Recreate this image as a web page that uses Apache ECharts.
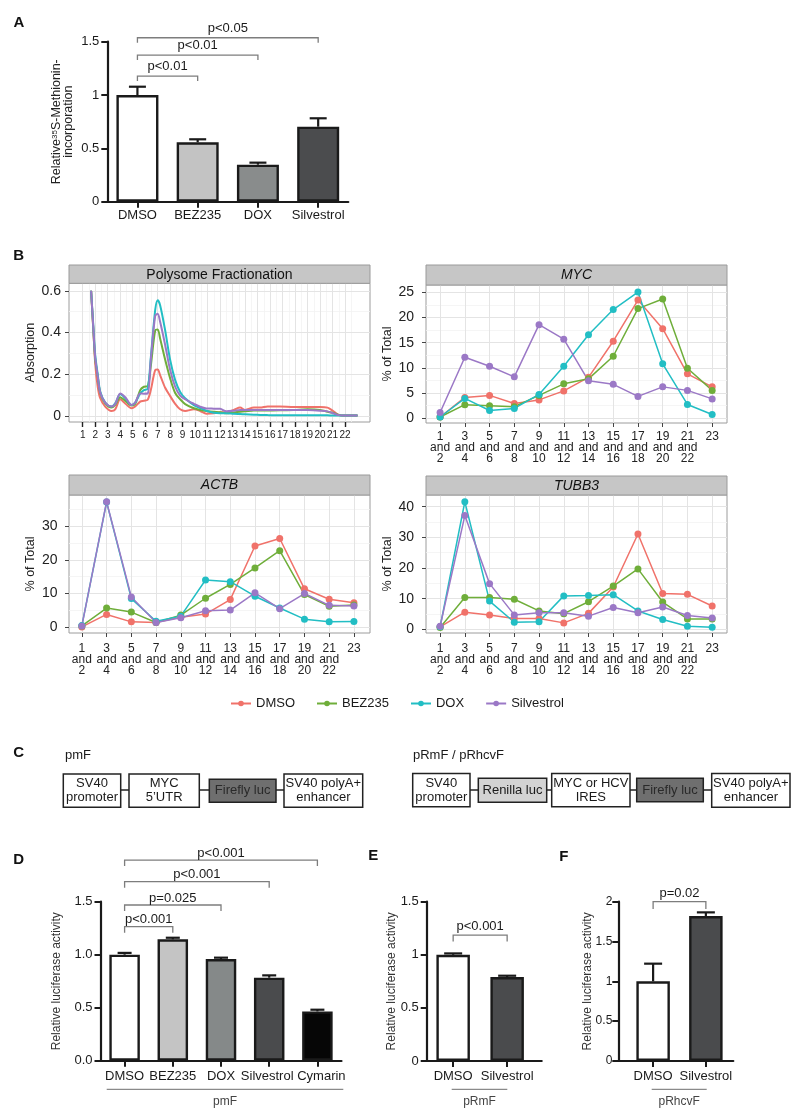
<!DOCTYPE html>
<html><head><meta charset="utf-8">
<script src="https://cdn.jsdelivr.net/npm/echarts@6.0.0/dist/echarts.min.js"></script>
<style>html,body{margin:0;padding:0;background:#fff}#c{width:800px;height:1115px}</style>
</head><body><div id="c"></div>
<script>
// ================= DATA =================
// Panel A
const catA = ['DMSO', 'BEZ235', 'DOX', 'Silvestrol'];
const valA = [1.0, 0.557, 0.347, 0.703];
const errA = [0.078, 0.028, 0.019, 0.079];
const sigA = ['p<0.01', 'p<0.01', 'p<0.05'];

// Panel B
const treatments = ['DMSO', 'BEZ235', 'DOX', 'Silvestrol'];
const fracLabels = ['1 and 2', '3 and 4', '5 and 6', '7 and 8', '9 and 10', '11 and 12',
  '13 and 14', '15 and 16', '17 and 18', '19 and 20', '21 and 22', '23'];
const polyFraction = [1.67, 1.85, 2.0, 2.2, 2.4, 2.8, 3.3, 3.6, 4.0, 4.4, 4.9, 5.2, 5.6, 5.9, 6.2,
  6.45, 6.8, 7.0, 7.2, 7.6, 8.0, 8.4, 8.8, 9.2, 9.9, 10.4, 10.9, 11.5, 12.0, 12.5, 13.1, 13.6,
  14.0, 14.7, 15.2, 15.8, 16.8, 17.9, 19.0, 20.0, 20.6, 21.0, 21.5, 21.9, 23.0];
const polyDMSO = [0.60, 0.41, 0.25, 0.14, 0.085, 0.045, 0.024, 0.032, 0.080, 0.060, 0.037, 0.045,
  0.069, 0.073, 0.078, 0.124, 0.220, 0.223, 0.195, 0.135, 0.095, 0.058, 0.032, 0.024, 0.032,
  0.024, 0.011, 0.013, 0.018, 0.018, 0.029, 0.040, 0.029, 0.041, 0.040, 0.045, 0.045, 0.043,
  0.043, 0.043, 0.040, 0.026, 0.005, 0.002, 0.002];
const polyBEZ235 = [0.60, 0.41, 0.27, 0.19, 0.11, 0.060, 0.040, 0.053, 0.090, 0.073, 0.050, 0.057,
  0.124, 0.140, 0.143, 0.240, 0.410, 0.415, 0.370, 0.270, 0.180, 0.110, 0.080, 0.057, 0.037,
  0.029, 0.024, 0.020, 0.018, 0.013, 0.017, 0.020, 0.022, 0.026, 0.026, 0.026, 0.027, 0.029,
  0.032, 0.029, 0.020, 0.015, 0.005, 0.002, 0.002];
const polyDOX = [0.60, 0.43, 0.29, 0.20, 0.117, 0.064, 0.045, 0.060, 0.105, 0.085, 0.053, 0.064,
  0.108, 0.124, 0.130, 0.280, 0.507, 0.555, 0.530, 0.410, 0.268, 0.172, 0.115, 0.085, 0.052,
  0.038, 0.025, 0.015, 0.013, 0.013, 0.010, 0.009, 0.008, 0.006, 0.005, 0.004, 0.003, 0.003,
  0.003, 0.003, 0.003, 0.002, 0.002, 0.002, 0.002];
const polySilvestrol = [0.60, 0.42, 0.28, 0.19, 0.112, 0.064, 0.045, 0.057, 0.108, 0.090, 0.053,
  0.064, 0.108, 0.107, 0.108, 0.270, 0.480, 0.490, 0.450, 0.340, 0.220, 0.140, 0.098, 0.080,
  0.058, 0.044, 0.036, 0.035, 0.034, 0.022, 0.025, 0.029, 0.029, 0.029, 0.029, 0.029, 0.029,
  0.029, 0.028, 0.025, 0.022, 0.014, 0.004, 0.002, 0.002];

const mycDMSO = [0.2, 4.1, 4.5, 2.9, 3.6, 5.4, 8.1, 15.3, 23.5, 17.8, 8.8, 6.2];
const mycBEZ235 = [0.2, 2.65, 2.45, 2.25, 4.5, 6.8, 7.8, 12.3, 21.8, 23.7, 9.9, 5.5];
const mycDOX = [0.2, 3.9, 1.5, 1.9, 4.7, 10.3, 16.6, 21.6, 25.1, 10.8, 2.7, 0.7];
const mycSilvestrol = [1.1, 12.1, 10.3, 8.2, 18.6, 15.7, 7.4, 6.7, 4.3, 6.2, 5.5, 3.8];

const actbDMSO = [0.1, 3.8, 1.6, 1.4, 3.0, 3.9, 8.2, 24.1, 26.3, 11.4, 8.3, 7.3];
const actbBEZ235 = [0.4, 5.7, 4.5, 1.4, 3.6, 8.6, 12.7, 17.6, 22.7, 9.7, 6.2, 6.6];
const actbDOX = [0.5, 37.1, 8.5, 1.8, 3.3, 14.0, 13.5, 9.2, 5.7, 2.4, 1.6, 1.7];
const actbSilvestrol = [0.4, 37.2, 9.0, 1.4, 2.8, 4.9, 5.1, 10.2, 5.5, 10.0, 6.5, 6.3];

const tubb3DMSO = [0.8, 5.6, 4.7, 3.5, 3.5, 2.1, 5.2, 13.8, 31.1, 11.7, 11.4, 7.6];
const tubb3BEZ235 = [0.6, 10.4, 10.4, 9.8, 6.0, 5.1, 9.0, 14.1, 19.7, 8.9, 3.4, 3.4];
const tubb3DOX = [0.8, 41.6, 9.2, 2.3, 2.5, 10.9, 11.0, 11.3, 6.0, 3.2, 1.0, 0.7];
const tubb3Silvestrol = [1.0, 37.1, 14.9, 4.7, 5.4, 5.4, 4.3, 7.1, 5.4, 7.3, 4.5, 3.7];

const polyXTicks = [1, 2, 3, 4, 5, 6, 7, 8, 9, 10, 11, 12, 13, 14, 15, 16, 17, 18, 19, 20, 21, 22];
const polyYTicks = [0, 0.2, 0.4, 0.6];
const mycYTicks = [0, 5, 10, 15, 20, 25];
const actbYTicks = [0, 10, 20, 30];
const tubb3YTicks = [0, 10, 20, 30, 40];

// Panel C constructs
const constructPmF = ['SV40\npromoter', 'MYC\n5\u2019UTR', 'Firefly luc', 'SV40 polyA+\nenhancer'];
const constructPR = ['SV40\npromoter', 'Renilla luc', 'MYC or HCV\nIRES', 'Firefly luc', 'SV40 polyA+\nenhancer'];

// Panel D
const catD = ['DMSO', 'BEZ235', 'DOX', 'Silvestrol', 'Cymarin'];
const valD = [1.0, 1.145, 0.959, 0.783, 0.465];
const errD = [0.017, 0.015, 0.013, 0.022, 0.016];
const sigD = ['p<0.001', 'p=0.025', 'p<0.001', 'p<0.001'];
// Panel E
const catE = ['DMSO', 'Silvestrol'];
const valE = [1.0, 0.79];
const errE = [0.013, 0.013];
const sigE = ['p<0.001'];
// Panel F
const catF = ['DMSO', 'Silvestrol'];
const valF = [1.0, 1.82];
const errF = [0.222, 0.046];
const sigF = ['p=0.02'];

// ================= STYLE / LAYOUT =================
const FONT = "'Liberation Sans', Arial, sans-serif";
const INK = '#1a1a1a';
const treatColors = ['#f0726a', '#6fae3a', '#22bec4', '#9b78c6'];
const fillA = ['#ffffff', '#c3c3c3', '#898c8c', '#4b4c4e'];
const fillD = ['#ffffff', '#c4c4c4', '#858989', '#4a4b4d', '#060606'];
const fillEF = ['#ffffff', '#4a4b4d'];
const fracIdx = fracLabels.map((_, i) => i);

const facetGrid = {show: true, backgroundColor: '#fff', borderColor: '#9c9c9c', borderWidth: 1, outerBoundsMode: 'none'};
const grid = [
  {left: 107.3, top: 41.7, width: 241, height: 160, outerBoundsMode: 'none'},
  Object.assign({left: 69, top: 283.3, width: 301, height: 138.7}, facetGrid),
  Object.assign({left: 426, top: 285, width: 301, height: 138}, facetGrid),
  Object.assign({left: 69, top: 495, width: 301, height: 138}, facetGrid),
  Object.assign({left: 426, top: 495, width: 301, height: 138}, facetGrid),
  {left: 100.5, top: 901.7, width: 241, height: 159, outerBoundsMode: 'none'},
  {left: 426.7, top: 901.7, width: 115, height: 159.3, outerBoundsMode: 'none'},
  {left: 618.3, top: 901.7, width: 115, height: 159.3, outerBoundsMode: 'none'}
];

const blackLine = {show: true, onZero: false, lineStyle: {color: INK, width: 2.2}};
const blackTick = {show: true, length: 6, lineStyle: {color: INK, width: 2}};

function barX(gi, cats, margin, fontSize) {
  return {type: 'category', gridIndex: gi, data: cats, boundaryGap: true,
    axisLine: blackLine, axisTick: Object.assign({alignWithLabel: true}, blackTick),
    axisLabel: {show: true, interval: 0, hideOverlap: false, color: INK, fontSize: fontSize || 13, fontFamily: FONT, margin: margin},
    splitLine: {show: false}};
}
function barXValue(gi, cats, min, max) {
  const idx = cats.map((_, i) => i);
  return {type: 'value', gridIndex: gi, min: min, max: max,
    axisLine: blackLine,
    axisTick: Object.assign({customValues: idx}, blackTick),
    axisLabel: {show: true, customValues: idx, hideOverlap: false, color: INK, fontSize: 13, fontFamily: FONT, margin: 9,
      formatter: v => cats[Math.round(v)]},
    splitLine: {show: false}};
}
function barY(gi, max, fmt, name, nameGap, margin, labelSize) {
  return {type: 'value', gridIndex: gi, min: 0, max: max, interval: 0.5,
    axisLine: blackLine, axisTick: blackTick,
    axisLabel: {show: true, color: INK, fontSize: labelSize || 13, fontFamily: FONT, margin: margin, formatter: fmt || undefined},
    splitLine: {show: false},
    name: name, nameLocation: 'middle', nameRotate: 90, nameGap: nameGap, nameMoveOverlap: false,
    nameTextStyle: {fontSize: 12, fontFamily: FONT, color: '#333'}};
}
function facetX(gi, min, max, ticks, fmt, fontSize, margin, tickStyle) {
  return {type: 'value', gridIndex: gi, min: min, max: max,
    axisLine: {show: false, onZero: false},
    axisTick: {show: true, customValues: ticks, length: tickStyle.length, lineStyle: {color: tickStyle.color, width: tickStyle.width}},
    axisLabel: {show: true, customValues: ticks, hideOverlap: false, color: '#222', fontSize: fontSize, lineHeight: 11,
      fontFamily: FONT, margin: margin, formatter: fmt},
    splitLine: {show: false}};
}
function facetY(gi, min, max, ticks, name, margin) {
  return {type: 'value', gridIndex: gi, min: min, max: max,
    axisLine: {show: false, onZero: false},
    axisTick: {show: true, customValues: ticks, length: 4, lineStyle: {color: '#444', width: 1}},
    axisLabel: {show: true, customValues: ticks, color: '#222', fontSize: 14, fontFamily: FONT, margin: margin},
    splitLine: {show: false},
    name: name, nameLocation: 'middle', nameRotate: 90, nameGap: 32, nameMoveOverlap: false,
    nameTextStyle: {fontSize: 12.5, fontFamily: FONT, color: '#222'}};
}
const fracFmt = v => fracLabels[Math.round(v)].replace(/ /g, '\n');
const thinTick = {length: 4, color: '#444', width: 1};

const xD = barX(5, catD.map((c, i) => {
  if (i === catD.length - 1) return {value: c, textStyle: {padding: [0, 0, 0, 8]}};
  if (i === catD.length - 2) return {value: c, textStyle: {padding: [0, 4, 0, 0]}};
  return c;
}), 9);
const xAxis = [
  barX(0, catA, 7),
  facetX(1, -0.1, 24, polyXTicks, v => String(v), 10, 8, {length: 5, color: '#222', width: 1.4}),
  facetX(2, -0.57, 11.6, fracIdx, fracFmt, 12, 8, thinTick),
  facetX(3, -0.52, 11.65, fracIdx, fracFmt, 12, 10, thinTick),
  facetX(4, -0.57, 11.6, fracIdx, fracFmt, 12, 10, thinTick),
  xD,
  barXValue(6, catE, -0.49, 1.64),
  barXValue(7, catF, -0.66, 1.52)
];
const yA = barY(0, 1.5, null, '{t|Relative}{s|35}{t|S-Methionin-}\n{t|incorporation}', 33, 8);
yA.nameTextStyle = {fontSize: 12.5, fontFamily: FONT, color: '#222', lineHeight: 12,
  rich: {t: {fontSize: 12.5, fontFamily: FONT, color: '#222', lineHeight: 12},
         s: {fontSize: 8, fontFamily: FONT, color: '#222', lineHeight: 8, verticalAlign: 'top'}}};
const yAxis = [
  yA,
  facetY(1, -0.029, 0.636, polyYTicks, 'Absorption', 8),
  facetY(2, -1.0, 26.5, mycYTicks, '% of Total', 12),
  facetY(3, -1.7, 39.2, actbYTicks, '% of Total', 11.5),
  facetY(4, -1.2, 43.8, tubb3YTicks, '% of Total', 12),
  barY(5, 1.5, v => v.toFixed(1), 'Relative luciferase activity', 37.5, 8),
  barY(6, 1.5, null, 'Relative luciferase activity', 29, 8),
  barY(7, 2, null, 'Relative luciferase activity', 25, 6, 12)
];

// ---- series helpers ----
function gridLines(ai, xMajor, xMinor, yMajor, yMinor) {
  const maj = {color: '#e4e4e4', width: 1, type: 'solid'};
  const mnr = {color: '#f2f2f2', width: 0.8, type: 'solid'};
  const d = [];
  xMinor.forEach(v => d.push({xAxis: v, lineStyle: mnr}));
  yMinor.forEach(v => d.push({yAxis: v, lineStyle: mnr}));
  xMajor.forEach(v => d.push({xAxis: v, lineStyle: maj}));
  yMajor.forEach(v => d.push({yAxis: v, lineStyle: maj}));
  return {type: 'line', xAxisIndex: ai, yAxisIndex: ai, data: [], z: 1, silent: true,
    markLine: {silent: true, z: 1, zlevel: 0, symbol: ['none', 'none'], label: {show: false}, animation: false,
      emphasis: {disabled: true}, data: d}};
}
function facetSeries(ai, arrays) {
  return treatments.map((t, k) => ({
    name: t, type: 'line', xAxisIndex: ai, yAxisIndex: ai, z: 3, silent: true,
    data: arrays[k].map((v, i) => [i, v]),
    symbol: 'circle', symbolSize: 7, showSymbol: true,
    lineStyle: {color: treatColors[k], width: 1.5, type: 'solid'},
    itemStyle: {color: treatColors[k]},
    emphasis: {disabled: true}
  }));
}
function barSeries(ai, vals, fills, barWidth, valueAxis) {
  return {type: 'bar', xAxisIndex: ai, yAxisIndex: ai, barWidth: barWidth, silent: true, z: 2,
    data: vals.map((v, i) => ({value: valueAxis ? [i, v] : v,
      itemStyle: {color: fills[i], borderColor: INK, borderWidth: 2.4}}))};
}
function errSeries(ai, vals, errs, cap) {
  return {type: 'custom', xAxisIndex: ai, yAxisIndex: ai, z: 4, silent: true,
    data: vals.map((v, i) => [i, v, v + errs[i]]),
    renderItem: (p, api) => {
      const a = api.coord([api.value(0), api.value(1)]);
      const b = api.coord([api.value(0), api.value(2)]);
      return {type: 'group', children: [
        {type: 'line', shape: {x1: a[0], y1: a[1], x2: b[0], y2: b[1]}, style: {stroke: INK, lineWidth: 2.2}},
        {type: 'line', shape: {x1: b[0] - cap, y1: b[1], x2: b[0] + cap, y2: b[1]}, style: {stroke: INK, lineWidth: 2.2}}
      ]};
    }};
}
function bracketSeries(ai, sig, levels, drop, textOff) {
  return {type: 'custom', xAxisIndex: ai, yAxisIndex: ai, z: 5, silent: true, clip: false,
    data: sig.map((s, k) => [0, levels[k], k + 1]),
    renderItem: (p, api) => {
      const a = api.coord([api.value(0), api.value(1)]);
      const b = api.coord([api.value(2), api.value(1)]);
      return {type: 'group', children: [
        {type: 'polyline', shape: {points: [[a[0], a[1] + drop], [a[0], a[1]], [b[0], b[1]], [b[0], b[1] + drop]]},
          style: {stroke: '#7d7d7d', lineWidth: 1.3, fill: 'none'}},
        {type: 'text', x: (a[0] + b[0]) / 2, y: a[1] - textOff,
          style: {text: sig[p.dataIndex], fontSize: 13, fontFamily: FONT, fill: INK,
            align: 'center', verticalAlign: 'middle', textAlign: 'center', textVerticalAlign: 'middle'}}
      ]};
    }};
}

const polyArrays = [polyDMSO, polyBEZ235, polyDOX, polySilvestrol];
const polySeries = treatments.map((t, k) => ({
  name: t, type: 'line', xAxisIndex: 1, yAxisIndex: 1, z: 3, silent: true,
  data: polyFraction.map((x, i) => [x, polyArrays[k][i]]),
  symbol: 'circle', showSymbol: false, smooth: 0.3,
  lineStyle: {color: treatColors[k], width: 2, type: 'solid'}, itemStyle: {color: treatColors[k]},
  emphasis: {disabled: true}
}));

const halfSteps = polyXTicks.map(v => v + 0.5);
const series = [].concat(
  [barSeries(0, valA, fillA, 42, false), errSeries(0, valA, errA, 8.5),
   bracketSeries(0, sigA, [1.178, 1.375, 1.537], 5, 9.5)],
  [gridLines(1, polyXTicks, halfSteps, polyYTicks, [0.1, 0.3, 0.5]),
   gridLines(2, fracIdx, [], mycYTicks, [2.5, 7.5, 12.5, 17.5, 22.5]),
   gridLines(3, fracIdx, [], actbYTicks, [5, 15, 25, 35]),
   gridLines(4, fracIdx, [], tubb3YTicks, [5, 15, 25, 35])],
  facetSeries(2, [mycDMSO, mycBEZ235, mycDOX, mycSilvestrol]),
  facetSeries(3, [actbDMSO, actbBEZ235, actbDOX, actbSilvestrol]),
  facetSeries(4, [tubb3DMSO, tubb3BEZ235, tubb3DOX, tubb3Silvestrol]),
  polySeries,
  [barSeries(5, valD, fillD, 30.5, false), errSeries(5, valD, errD, 7),
   bracketSeries(5, sigD, [1.264, 1.469, 1.689, 1.893], 6, 7)],
  [barSeries(6, valE, fillEF, 33.5, true), errSeries(6, valE, errE, 9),
   bracketSeries(6, sigE, [1.186], 6.5, 8.3)],
  [barSeries(7, valF, fillEF, 33.5, true), errSeries(7, valF, errF, 9),
   bracketSeries(7, sigF, [2.0], 7.3, 8.4)]
);

// ---- graphic (labels, strips, constructs) ----
function txt(x, y, s, o) {
  return {type: 'text', x: x, y: y, silent: true, z: 10,
    style: Object.assign({text: s, fill: INK, fontSize: 13, fontFamily: FONT,
      align: 'center', verticalAlign: 'middle', textAlign: 'center', textVerticalAlign: 'middle'}, o || {})};
}
function rect(x, y, w, h, fill, stroke, lw) {
  return {type: 'rect', silent: true, z: 9, shape: {x: x, y: y, width: w, height: h},
    style: {fill: fill, stroke: stroke, lineWidth: lw}};
}
function hline(x1, x2, y, stroke, lw) {
  return {type: 'line', silent: true, z: 9, shape: {x1: x1, y1: y, x2: x2, y2: y}, style: {stroke: stroke, lineWidth: lw}};
}
const g = [];
[['A', 19, 23.3], ['B', 18.7, 255.7], ['C', 18.7, 753.3], ['D', 18.7, 860], ['E', 373.3, 855.7], ['F', 563.8, 856.7]]
  .forEach(p => g.push(txt(p[1], p[2], p[0], {fontSize: 15, fontWeight: 'bold', fill: '#111'})));
// facet strips
[[69, 265, 301, 18.3, 'Polysome Fractionation', 'normal'], [426, 265, 301, 20, 'MYC', 'italic'],
 [69, 475, 301, 20, 'ACTB', 'italic'], [426, 476, 301, 19, 'TUBB3', 'italic']].forEach(s => {
  g.push(rect(s[0], s[1], s[2], s[3], '#c6c6c6', '#9a9a9a', 1));
  g.push(txt(s[0] + s[2] / 2, s[1] + s[3] / 2 + 0.5, s[4], {fontSize: 14, fontStyle: s[5], fill: '#111'}));
});
// construct diagrams
g.push(txt(65, 755, 'pmF', {align: 'left', textAlign: 'left'}));
g.push(txt(413, 755, 'pRmF / pRhcvF', {align: 'left', textAlign: 'left'}));
function construct(boxes, labels) {
  for (let i = 0; i < boxes.length; i++) {
    const b = boxes[i];
    if (i > 0) {
      const p = boxes[i - 1];
      g.push(hline(p[0] + p[2], b[0], 790, '#222', 1.5));
    }
    g.push(rect(b[0], b[1], b[2], b[3], b[4], '#222', 1.5));
    g.push(txt(b[0] + b[2] / 2, b[1] + b[3] / 2, labels[i], {lineHeight: 14.3, fill: b[4] === '#6f6f6f' ? '#2a2a2a' : INK}));
  }
}
construct([[63.3, 774, 57.4, 33.3, '#fff'], [129, 774, 70.3, 33.3, '#fff'], [209.3, 779.3, 66.7, 23, '#6f6f6f'],
  [284, 774, 78.7, 33.3, '#fff']], constructPmF);
construct([[412.7, 773.5, 57.3, 33.3, '#fff'], [478.3, 778.3, 68.4, 24, '#d3d3d3'], [551.7, 773.5, 78.3, 33.3, '#fff'],
  [636.7, 778.3, 66.6, 23.4, '#6f6f6f'], [711.7, 773.5, 78.3, 33.8, '#fff']], constructPR);
// group labels under D/E/F
[[106.7, 343.3, 'pmF'], [451.7, 507.3, 'pRmF'], [651.7, 706.7, 'pRhcvF']].forEach(s => {
  g.push(hline(s[0], s[1], 1089.3, '#8a8a8a', 1.3));
  g.push(txt((s[0] + s[1]) / 2, 1101.7, s[2], {fontSize: 12, fill: '#444'}));
});

const option = {
  animation: false,
  backgroundColor: '#ffffff',
  textStyle: {fontFamily: FONT},
  grid: grid,
  xAxis: xAxis,
  yAxis: yAxis,
  legend: {data: treatments, left: 230, top: 697, padding: 0, itemWidth: 20, itemHeight: 7, itemGap: 21,
    textStyle: {fontSize: 13, color: INK, fontFamily: FONT}, selectedMode: false},
  series: series,
  graphic: {elements: g}
};
const chart = echarts.init(document.getElementById('c'), null, {renderer: 'canvas', width: 800, height: 1115});
chart.setOption(option);
</script>
</body></html>
